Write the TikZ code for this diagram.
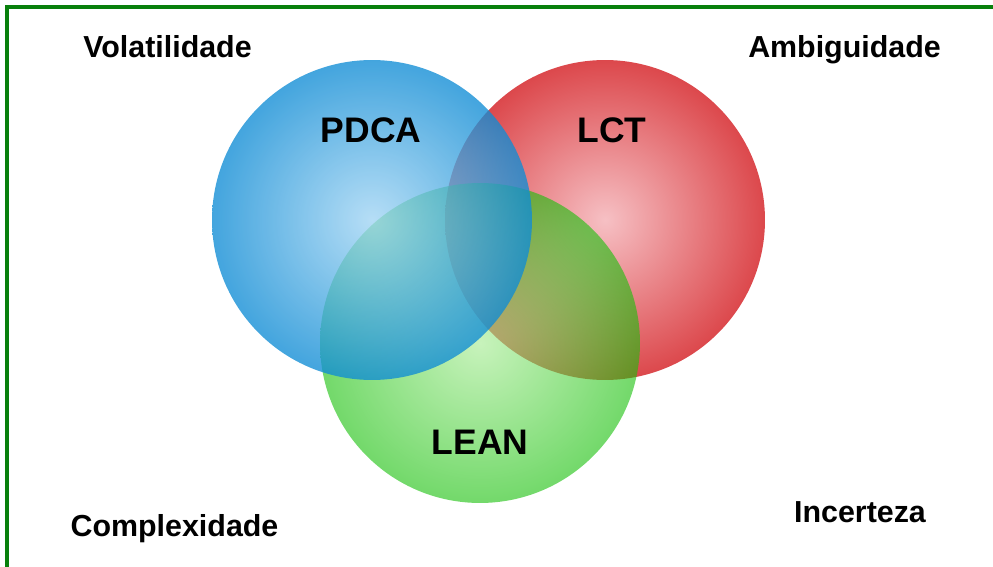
\documentclass[tikz,border=0pt]{standalone}
\usepackage{fontspec}
\setmainfont{Liberation Sans}
\usepackage{tikz}

\definecolor{moldura}{RGB}{8,128,12}
\definecolor{azulA}{RGB}{162,213,244}
\definecolor{azulB}{RGB}{15,140,213}
\definecolor{vermA}{RGB}{246,192,196}
\definecolor{vermB}{RGB}{220,72,76}
\definecolor{verdeA}{RGB}{163,235,143}
\definecolor{verdeB}{RGB}{22,192,8}

\tikzset{
    venn/.style={circle, minimum size=6.4cm, inner sep=0pt, shading=radial},
    canto/.style={font=\bfseries\fontsize{17.3}{20}\selectfont},
    rotulo/.style={font=\bfseries\fontsize{20.2}{23}\selectfont}
}

\begin{document}
\begin{tikzpicture}[x=0.02cm,y=-0.02cm]
    \clip (0,0) rectangle (993,567);
    \fill[white] (0,0) rectangle (993,567);
    \draw[moldura, line width=0.08cm] (7,7) rectangle (1010,590);
    % Circulos
    \node[venn, inner color=vermA, outer color=vermB] (lct) at (605,220) {};
    \node[venn, inner color=verdeA, outer color=verdeB, opacity=0.6] (lean) at (480,343) {};
    \node[venn, inner color=azulA, outer color=azulB, opacity=0.78] (pdca) at (372,220) {};
    \node[rotulo] (tpdca) at (371,130) {PDCA};
    \node[rotulo] (tlct) at (612,130) {LCT};
    \node[rotulo] (tlean) at (480,442) {LEAN};
    % Cantos
    \node[canto] (vol) at (167.5,47) {Volatilidade};
    \node[canto] (amb) at (844.5,50) {Ambiguidade};
    \node[canto] (comp) at (174.5,529) {Complexidade};
    \node[canto] (inc) at (860,512.5) {Incerteza};
\end{tikzpicture}
\end{document}
